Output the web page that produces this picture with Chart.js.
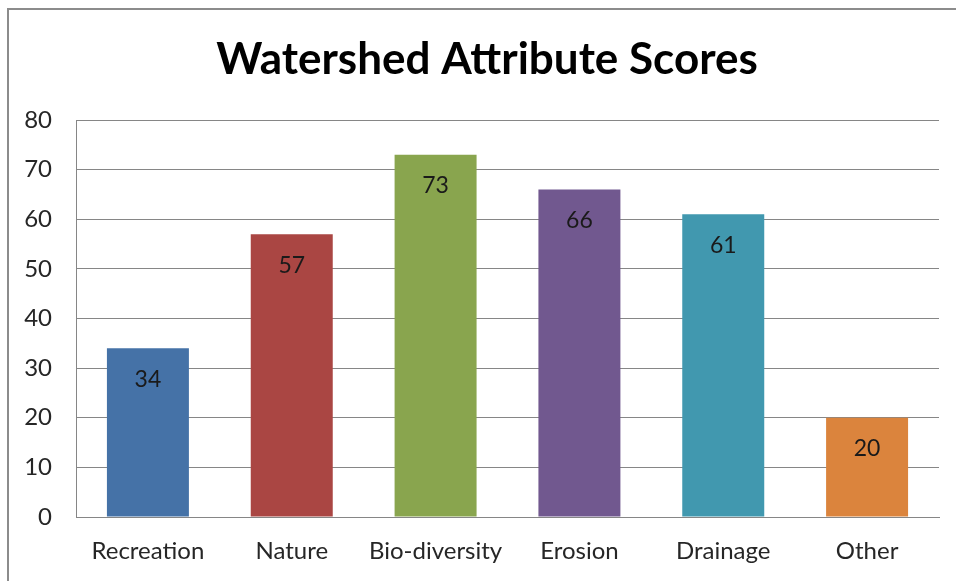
<!DOCTYPE html>
<html>
<head>
<meta charset="utf-8">
<script src="https://cdn.jsdelivr.net/npm/chart.js@4.4.1/dist/chart.umd.min.js"></script>
<style>
  html, body { margin: 0; padding: 0; background: #fff; }
  #wrap { position: relative; width: 956px; height: 581px; }
</style>
</head>
<body>
<div id="wrap"><canvas id="scores"></canvas></div>
<script>
var categories = ['Recreation', 'Nature', 'Bio-diversity', 'Erosion', 'Drainage', 'Other'];
var scores = [34, 57, 73, 66, 61, 20];
var barColors = ['#4572A7', '#AA4643', '#89A54E', '#71588F', '#4198AF', '#DB843D'];
var chartTitle = 'Watershed Attribute Scores';

var FONT = 'Lato, "Open Sans", sans-serif';

// frame line along the left and top edge, plus the title
var framePlugin = {
    id: 'frame',
    beforeDraw: function (chart) {
        var c = chart.ctx;
        c.save();
        c.strokeStyle = '#8c8c8c';
        c.lineWidth = 2;
        c.beginPath();
        c.moveTo(8, chart.height);
        c.lineTo(8, 9);
        c.lineTo(chart.width, 9);
        c.stroke();

        c.fillStyle = '#000';
        c.font = 'bold 44px ' + FONT;
        c.textAlign = 'center';
        c.textBaseline = 'middle';
        c.fillText(chartTitle, 487, 60);
        c.restore();
    }
};

// value written inside each bar, just under its top
var valueLabels = {
    id: 'valueLabels',
    afterDatasetsDraw: function (chart) {
        var c = chart.ctx;
        var meta = chart.getDatasetMeta(0);
        c.save();
        c.font = '23px ' + FONT;
        c.fillStyle = '#1a1a1a';
        c.textAlign = 'center';
        c.textBaseline = 'middle';
        meta.data.forEach(function (bar, i) {
            c.fillText(String(scores[i]), bar.x, bar.y + 31);
        });
        c.restore();
    }
};

var ctx = document.getElementById('scores').getContext('2d');
var chart = new Chart(ctx, {
    type: 'bar',
    data: {
        labels: categories,
        datasets: [{
            label: 'Score',
            data: scores,
            backgroundColor: barColors,
            borderWidth: 0,
            categoryPercentage: 1,
            barPercentage: 0.57
        }]
    },
    options: {
        responsive: true,
        maintainAspectRatio: false,
        animation: false,
        layout: {
            padding: { left: 0, right: 17, top: 120, bottom: 0 }
        },
        plugins: {
            legend: { display: false },
            tooltip: { enabled: false },
            title: { display: false }
        },
        scales: {
            x: {
                afterFit: function (scale) { scale.height = 64; },
                grid: { display: false, drawTicks: false },
                border: { display: true, color: '#868686', width: 1 },
                ticks: {
                    color: '#262626',
                    padding: 20,
                    font: { family: FONT, size: 24 }
                }
            },
            y: {
                min: 0,
                max: 80,
                afterFit: function (scale) { scale.width = 76; },
                grid: { color: '#868686', lineWidth: 1, drawTicks: false },
                border: { display: true, color: '#868686', width: 1 },
                ticks: {
                    stepSize: 10,
                    color: '#262626',
                    padding: 24,
                    font: { family: FONT, size: 24 }
                }
            }
        }
    },
    plugins: [framePlugin, valueLabels]
});
</script>
</body>
</html>
